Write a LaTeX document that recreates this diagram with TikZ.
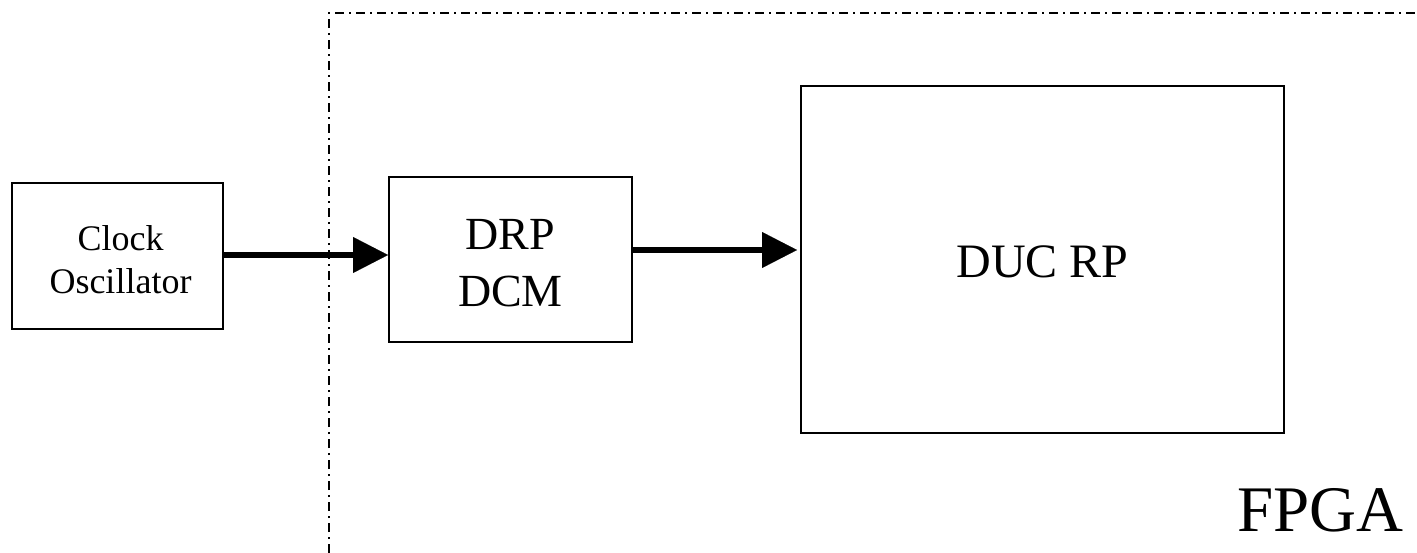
\documentclass[tikz,border=0pt]{standalone}
\usepackage{fontspec}
\setmainfont{Liberation Serif}
\usetikzlibrary{arrows.meta,calc}
\begin{document}
\begin{tikzpicture}[x=1pt,y=-1pt,
  block/.style={draw,line width=2pt,inner sep=0pt},
  caption/.style={inner sep=0pt,align=center},
  flow/.style={line width=6pt,-{Triangle[length=35pt,width=36pt,line width=0.1pt]}},
  region/.style={line width=2pt,dash pattern=on 9pt off 5pt on 2pt off 5pt}]
  \useasboundingbox (0,0) rectangle (1417,553);

  % FPGA boundary (dash-dot)
  \coordinate (fb) at (329,553);
  \coordinate (fc) at (329,13);
  \coordinate (fr) at (1417,13);
  \draw[region] (fb) -- (fc) -- (fr);

  % blocks
  \node[block,minimum width=211pt,minimum height=146pt,
        label={[caption,yshift=-3.5pt,xshift=3pt,font=\fontsize{36}{43}\selectfont]center:Clock\\Oscillator}]
        (clk) at (117.5,256) {};
  \node[block,minimum width=243pt,minimum height=165pt,
        label={[caption,yshift=-4pt,font=\fontsize{46}{57}\selectfont]center:DRP\\DCM}]
        (drp) at (510.5,259.5) {};
  \node[block,minimum width=483pt,minimum height=347pt,
        label={[caption,yshift=-2pt,font=\fontsize{48}{58}\selectfont]center:DUC RP}]
        (duc) at (1042.5,259.5) {};

  \node[inner sep=0pt,anchor=base west,font=\fontsize{65}{78}\selectfont]
        (fpga) at (1237,531) {FPGA};

  % clock path
  \draw[flow] ([yshift=1pt]clk.east) -- ([yshift=1pt]clk.east -| drp.west);
  \draw[flow] ([yshift=9.5pt]drp.east) -- ([yshift=9.5pt,xshift=-3pt]drp.east -| duc.west);
\end{tikzpicture}
\end{document}
